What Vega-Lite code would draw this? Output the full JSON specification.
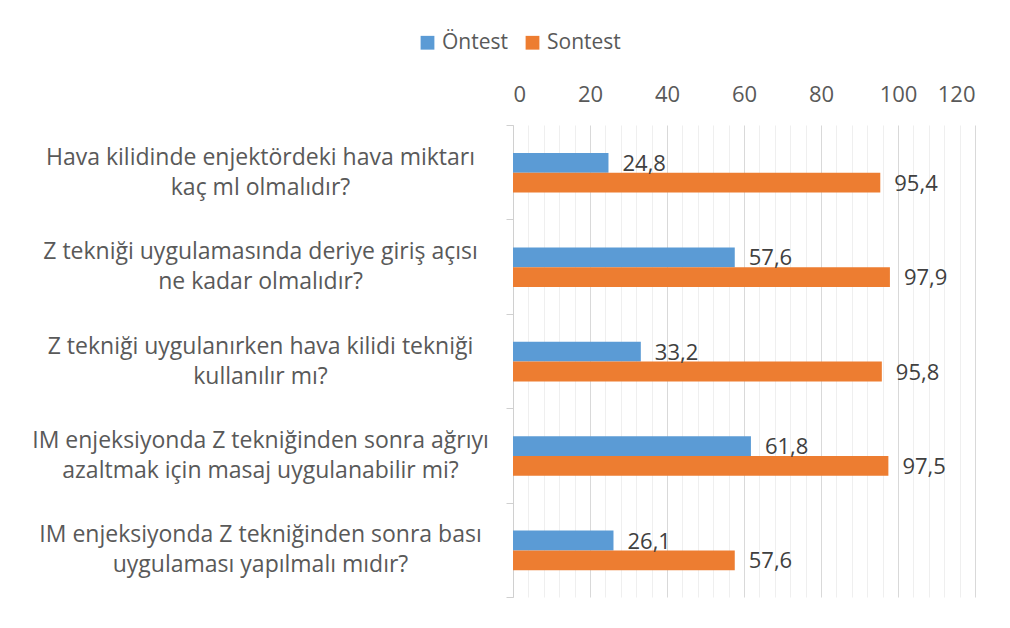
{
  "$schema": "https://vega.github.io/schema/vega-lite/v6.json",
  "autosize": "none",
  "width": 462,
  "height": 472,
  "padding": {"left": 513, "top": 125, "right": 35, "bottom": 31},
  "background": "white",
  "config": {
    "font": "Open Sans",
    "view": {"stroke": null}
  },
  "data": {
    "values": [
      {"soru": "Hava kilidinde enjektördeki hava miktarı\nkaç ml olmalıdır?", "grup": "Öntest", "deger": 24.8},
      {"soru": "Hava kilidinde enjektördeki hava miktarı\nkaç ml olmalıdır?", "grup": "Sontest", "deger": 95.4},
      {"soru": "Z tekniği uygulamasında deriye giriş açısı\nne kadar olmalıdır?", "grup": "Öntest", "deger": 57.6},
      {"soru": "Z tekniği uygulamasında deriye giriş açısı\nne kadar olmalıdır?", "grup": "Sontest", "deger": 97.9},
      {"soru": "Z tekniği uygulanırken hava kilidi tekniği\nkullanılır mı?", "grup": "Öntest", "deger": 33.2},
      {"soru": "Z tekniği uygulanırken hava kilidi tekniği\nkullanılır mı?", "grup": "Sontest", "deger": 95.8},
      {"soru": "IM enjeksiyonda Z tekniğinden sonra ağrıyı\nazaltmak için masaj uygulanabilir mi?", "grup": "Öntest", "deger": 61.8},
      {"soru": "IM enjeksiyonda Z tekniğinden sonra ağrıyı\nazaltmak için masaj uygulanabilir mi?", "grup": "Sontest", "deger": 97.5},
      {"soru": "IM enjeksiyonda Z tekniğinden sonra bası\nuygulaması yapılmalı mıdır?", "grup": "Öntest", "deger": 26.1},
      {"soru": "IM enjeksiyonda Z tekniğinden sonra bası\nuygulaması yapılmalı mıdır?", "grup": "Sontest", "deger": 57.6}
    ]
  },
  "transform": [
    {"calculate": "replace(format(datum.deger, '.1f'), '.', ',')", "as": "etiket"}
  ],
  "encoding": {
    "y": {
      "field": "soru",
      "type": "nominal",
      "sort": null,
      "scale": {"paddingInner": 0, "paddingOuter": 0},
      "axis": {
        "title": null,
        "labelExpr": "split(datum.label, '\\n')",
        "labelFont": "Open Sans",
        "labelFontSize": 23,
        "labelColor": "#595959",
        "labelLineHeight": 30,
        "labelLimit": 600,
        "labelAlign": "center",
        "labelBaseline": "middle",
        "labelPadding": 246,
        "labelOffset": -15,
        "domain": true,
        "domainColor": "#D0D0D0",
        "ticks": true,
        "tickBand": "extent",
        "tickSize": 7,
        "tickColor": "#D0D0D0",
        "grid": false
      }
    },
    "yOffset": {
      "field": "grup",
      "type": "nominal",
      "sort": ["Öntest", "Sontest"],
      "scale": {"paddingInner": 0, "paddingOuter": 0, "range": [28, 67.6]}
    },
    "x": {
      "field": "deger",
      "type": "quantitative",
      "scale": {"domain": [0, 120], "nice": false, "zero": true},
      "axis": {
        "orient": "top",
        "title": null,
        "values": [0, 4, 8, 12, 16, 20, 24, 28, 32, 36, 40, 44, 48, 52, 56, 60, 64, 68, 72, 76, 80, 84, 88, 92, 96, 100, 104, 108, 112, 116, 120],
        "labelExpr": "datum.value % 20 == 0 ? datum.label : ''",
        "labelFontSize": 22,
        "labelColor": "#595959",
        "labelPadding": 19,
        "domain": false,
        "ticks": false,
        "grid": true,
        "gridColor": {"condition": {"test": "datum.value % 20 == 0", "value": "#D9D9D9"}, "value": "#EFEFEF"},
        "gridWidth": 1
      }
    }
  },
  "layer": [
    {
      "mark": {"type": "bar"},
      "encoding": {
        "color": {
          "field": "grup",
          "type": "nominal",
          "scale": {"domain": ["Öntest", "Sontest"], "range": ["#5B9BD5", "#ED7D31"]},
          "legend": {
            "title": null,
            "orient": "none",
            "direction": "horizontal",
            "legendX": -96,
            "legendY": -93,
            "symbolType": "square",
            "symbolSize": 190,
            "symbolStrokeWidth": 0,
            "labelFontSize": 21,
            "labelColor": "#595959",
            "labelOffset": 4,
            "columnPadding": 14
          }
        }
      }
    },
    {
      "mark": {"type": "text", "align": "left", "baseline": "middle", "dx": 14, "dy": 1, "fontSize": 22, "color": "#404040"},
      "encoding": {
        "text": {"field": "etiket"}
      }
    }
  ]
}
